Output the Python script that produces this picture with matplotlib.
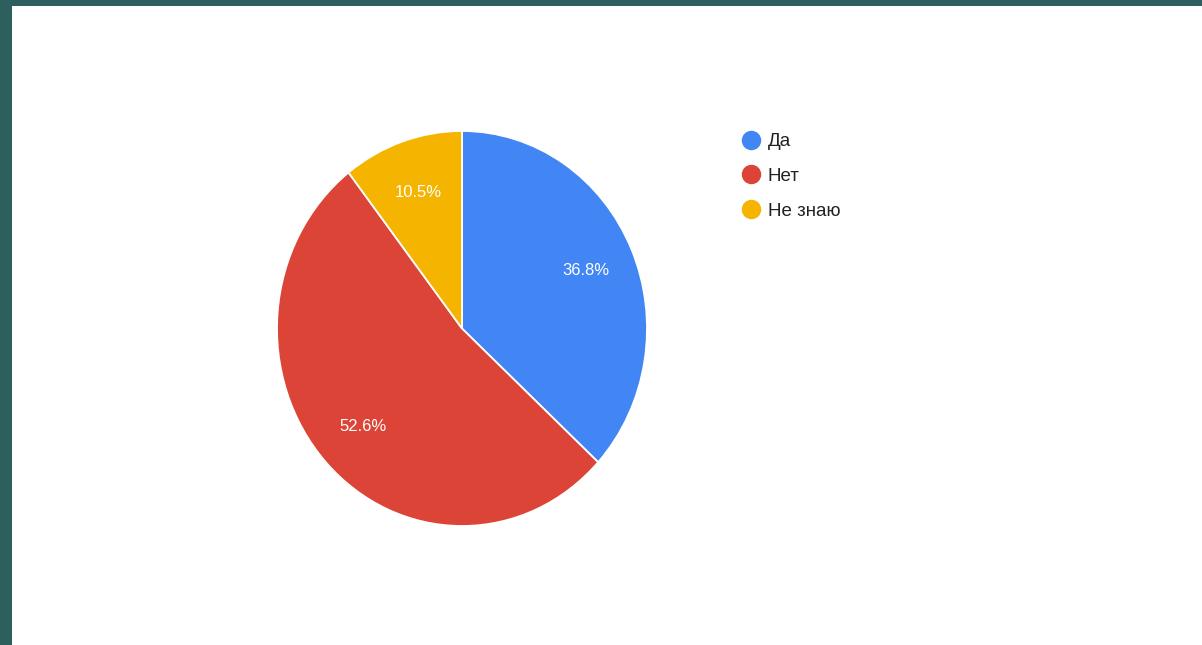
import matplotlib.pyplot as plt
from matplotlib.lines import Line2D
from matplotlib.patches import Rectangle

plt.rcParams['font.family'] = ['Liberation Sans', 'DejaVu Sans']

labels = ['Да', 'Нет', 'Не знаю']
values = [36.8, 52.6, 10.5]
colors = ['#4285F4', '#DB4437', '#F4B400']

W, H = 1202, 645
fig = plt.figure(figsize=(W / 100, H / 100), dpi=100)
fig.patch.set_facecolor('#2c5f5d')
# white slide area
fig.patches.append(Rectangle((12 / W, 0), 1 - 12 / W, 1 - 6 / H,
                             transform=fig.transFigure, facecolor='white',
                             edgecolor='none', zorder=-5))

# pie is a bit stretched vertically in the reference
cx, cy, rx, ry = 462, 328.5, 185, 197.5
ax = fig.add_axes([(cx - rx) / W, (H - cy - ry) / H, 2 * rx / W, 2 * ry / H])
pct = iter(values)  # print the shown percentages as they are
wedges, texts, autotexts = ax.pie(
    values, colors=colors, startangle=90, counterclock=False,
    autopct=lambda p: '%.1f%%' % next(pct), pctdistance=0.73,
    wedgeprops=dict(edgecolor='white', linewidth=1.3),
    textprops=dict(color='white', fontsize=12))
ax.set_aspect('auto')
ax.set_xlim(-1, 1)
ax.set_ylim(-1, 1)
ax.axis('off')

handles = [Line2D([], [], marker='o', linestyle='none', markersize=13,
                  markerfacecolor=c, markeredgecolor=c) for c in colors]
fig.legend(handles, labels, loc='upper left',
           bbox_to_anchor=(741.5 / W, 1 - 133 / H), frameon=False,
           fontsize=13.5, labelspacing=0.94, handlelength=1.0,
           handletextpad=0.4, borderaxespad=0, borderpad=0,
           labelcolor='#222222')

fig.savefig('out.png', dpi=100, facecolor=fig.get_facecolor())
